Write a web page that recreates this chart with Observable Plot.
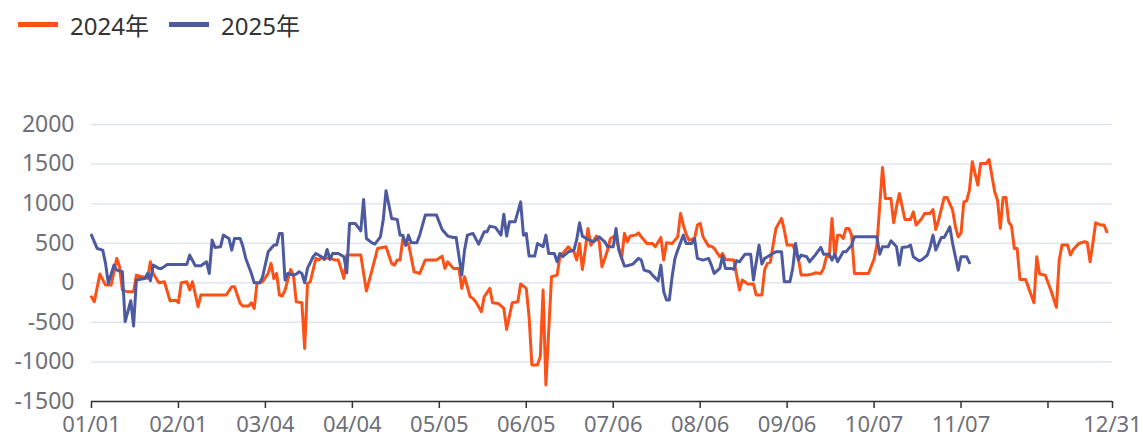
<!DOCTYPE html>
<html><head><meta charset="utf-8">
<script src="https://cdn.jsdelivr.net/npm/d3@7"></script>
<script src="https://cdn.jsdelivr.net/npm/@observablehq/plot@0.6"></script>
<style>
body{margin:0;background:#fff;font-family:"Noto Sans","Noto Sans CJK SC",sans-serif;}
#legend{height:48px;position:relative;}
.item{position:absolute;top:0;height:48px;display:flex;align-items:center;font-size:24px;color:#333;}
.sw{width:40px;height:5px;margin-right:12px;}
</style></head>
<body>
<div id="legend"></div>
<div id="chart"></div>
<script>
// x = day index in a 365-day year (0 = 01/01 ... 364 = 12/31)
const xTickDays = [0, 31, 62, 93, 124, 155, 186, 217, 248, 279, 310, 341, 364];
const xTickLabels = ["01/01","02/01","03/04","04/04","05/05","06/05","07/06","08/06","09/06","10/07","11/07","","12/31"];
const yTicks = [-1500, -1000, -500, 0, 500, 1000, 1500, 2000];
const seriesNames = ["2024年", "2025年"];
const seriesColors = ["#FC5117", "#4E5AA0"];

const d24 = [0,1,3,5,7,9,10,11,13,15,16,18,20,21,22,24,26,28,30,31,32,34,35,36,38,39,48,50,51,53,54,56,57,58,59,61,63,64,65,66,67,68,69,71,72,73,75,76,77,78,80,81,82,85,87,88,90,91,96,98,100,102,105,107,108,109,110,111,112,113,115,117,119,123,125,126,127,129,131,132,133,135,136,137,139,140,142,143,145,147,148,150,152,153,155,156,157,159,160,161,162,164,166,167,168,170,171,172,173,174,175,176,177,178,180,181,182,184,185,186,187,188,189,190,191,192,194,195,196,198,200,201,203,204,205,207,208,209,210,211,212,213,215,216,217,218,220,221,222,224,225,226,229,230,231,232,234,236,237,239,240,241,242,243,244,246,247,248,250,252,253,255,257,258,260,261,262,263,264,265,266,267,268,269,270,271,272,277,279,280,282,283,285,286,287,288,290,292,293,294,296,297,299,300,301,302,304,305,307,308,309,310,311,312,313,314,316,317,319,320,322,323,324,325,326,327,328,329,330,331,333,336,337,338,340,342,344,345,346,348,349,350,352,354,355,356,357,358,360,361,362];
const v24 = [-177,-240,110,-29,-29,308,202,-92,-114,-114,97,76,55,265,118,0,13,-227,-220,-252,0,13,-92,13,-303,-155,-155,-50,-50,-261,-294,-294,-252,-324,-8,13,118,245,55,118,-155,-168,-92,169,97,-240,-252,-829,-8,13,308,287,320,308,287,287,55,350,350,-105,160,434,455,245,223,287,287,560,476,497,139,118,287,287,337,182,265,182,182,-71,76,-177,-198,-240,-366,-177,-71,-252,-261,-324,-589,-252,-240,-16,-71,-429,-1039,-1039,-934,-92,-1292,76,97,329,371,455,413,392,287,497,169,413,687,476,590,518,202,413,560,581,560,434,308,624,518,590,602,631,581,497,497,455,573,287,505,497,539,581,876,729,615,539,560,729,750,581,463,463,434,329,371,295,287,97,-92,34,-16,-16,-155,-155,169,245,260,476,687,813,665,476,476,308,97,97,110,126,118,182,329,329,813,329,602,602,560,687,687,602,118,118,300,476,1457,1066,1066,758,960,1129,800,800,897,729,813,876,876,926,674,792,1078,1078,918,707,581,631,1023,1035,1170,1528,1234,1508,1508,1558,1149,1044,687,1078,1078,770,716,434,434,43,43,-252,329,110,97,-92,-311,287,476,476,350,421,497,518,510,265,500,758,729,729,644];

const d25 = [0,2,4,5,6,8,9,11,12,14,15,16,19,20,21,22,24,25,27,34,35,37,39,41,42,43,44,46,47,49,50,51,53,54,55,57,58,60,61,63,64,65,66,67,68,69,70,72,73,74,75,76,77,79,80,82,83,84,85,86,88,90,91,92,94,96,97,98,100,101,103,104,105,107,109,110,111,112,113,114,116,117,119,123,125,127,129,130,132,133,134,136,138,140,141,142,144,146,147,148,149,151,153,154,155,156,158,159,161,162,163,165,166,167,168,170,172,173,174,175,177,179,181,183,184,186,187,188,190,191,193,195,196,197,199,200,202,203,204,205,206,207,208,209,211,212,214,215,216,218,220,221,222,224,225,226,228,229,230,231,233,235,236,237,238,239,240,241,242,244,246,247,249,250,251,252,253,255,256,258,260,261,263,264,265,266,268,269,271,272,280,281,282,284,285,287,288,289,291,292,293,295,296,298,299,300,301,303,304,306,307,309,310,312,313];
const v25 = [602,434,413,245,-8,223,160,139,-492,-227,-547,34,55,118,25,223,182,182,232,232,350,215,215,265,118,539,447,455,602,560,413,560,560,455,308,118,0,0,76,392,434,476,476,624,624,34,118,97,110,139,118,0,182,329,371,329,295,421,295,371,371,329,126,750,750,657,1053,560,505,489,581,792,1162,813,800,602,602,476,602,505,505,602,855,855,674,590,573,573,97,413,602,624,489,644,644,716,700,602,867,590,770,770,1023,602,624,337,337,497,455,602,371,371,265,371,329,392,413,548,758,590,548,518,581,518,455,455,687,413,211,215,236,308,287,160,139,97,25,223,-114,-218,-218,76,308,413,602,497,497,560,308,287,308,223,118,182,337,182,182,169,280,265,362,362,34,265,476,236,308,329,350,392,392,13,13,182,497,287,350,329,265,350,447,362,362,287,362,265,392,392,476,581,581,362,455,455,531,455,223,447,455,476,329,278,290,350,455,602,413,573,573,707,497,160,329,329,253];

const data24 = d24.map((d, i) => ({d, v: v24[i]}));
const data25 = d25.map((d, i) => ({d, v: v25[i]}));
const labelMap = new Map(xTickDays.map((d, i) => [d, xTickLabels[i]]));

// legend
const legend = document.getElementById("legend");
const lefts = [18, 169];
seriesNames.forEach((n, i) => {
  const it = document.createElement("div");
  it.className = "item";
  it.style.left = lefts[i] + "px";
  it.innerHTML = `<span class="sw" style="background:${seriesColors[i]}"></span><span>${n}</span>`;
  legend.appendChild(it);
});

const chart = Plot.plot({
  width: 1143, height: 391,
  marginLeft: 91, marginRight: 31, marginTop: 76, marginBottom: 38,
  x: {domain: [0, 364]},
  y: {domain: [-1500, 2000]},
  style: {fontSize: "23px", fontFamily: '"Noto Sans","Noto Sans CJK SC",sans-serif', background: "#fff", color: "#6E7079"},
  marks: [
    Plot.gridY(yTicks, {stroke: "#E0E6F1", strokeOpacity: 1, strokeWidth: 1.5}),
    Plot.axisY(yTicks, {tickSize: 0, tickPadding: 17, label: null, fill: "#6E7079", tickFormat: d => String(d)}),
    Plot.axisX(xTickDays, {tickSize: 7, tickPadding: 8, fontSize: 22, label: null, tickFormat: d => labelMap.get(d), stroke: "#333", fill: "#6E7079", strokeWidth: 1.5}),
    Plot.ruleY([-1500], {stroke: "#333", strokeWidth: 1.5}),
    Plot.line(data24, {x: "d", y: "v", stroke: seriesColors[0], strokeWidth: 3}),
    Plot.line(data25, {x: "d", y: "v", stroke: seriesColors[1], strokeWidth: 3})
  ]
});
document.getElementById("chart").appendChild(chart);
</script>
</body></html>
